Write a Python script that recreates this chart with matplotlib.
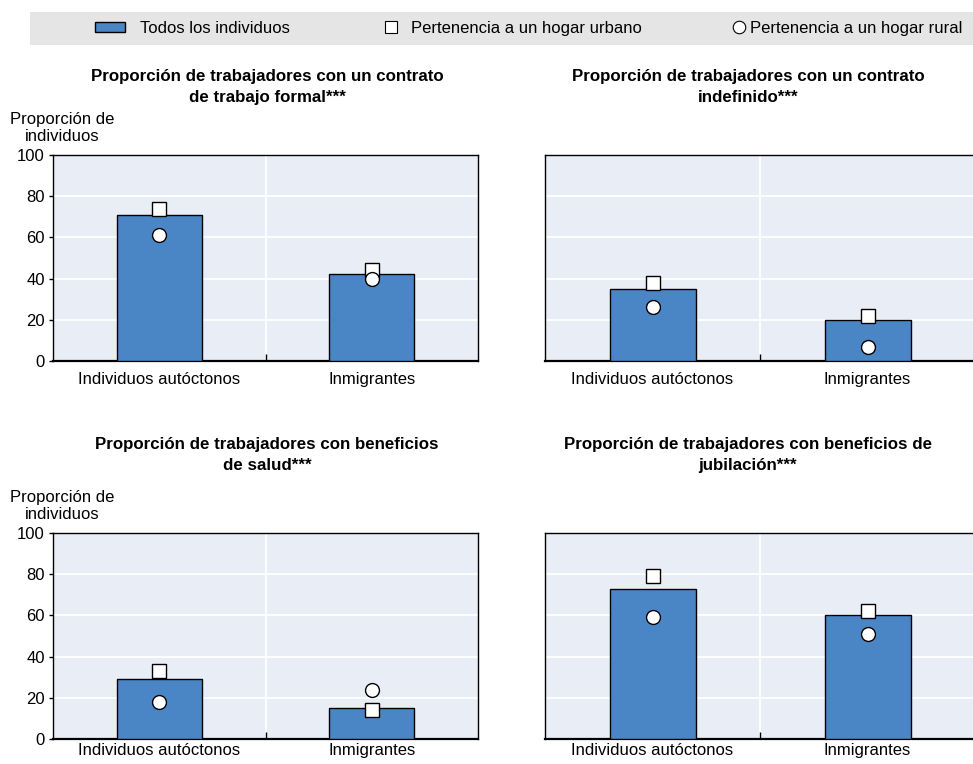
import matplotlib
matplotlib.use("Agg")
import matplotlib.pyplot as plt
from matplotlib.patches import Patch, Rectangle
from matplotlib.lines import Line2D
import numpy as np

plt.rcParams['font.family'] = ['Liberation Sans', 'DejaVu Sans']

categories = ["Individuos autóctonos", "Inmigrantes"]
titles = [
    "Proporción de trabajadores con un contrato\nde trabajo formal***",
    "Proporción de trabajadores con un contrato\nindefinido***",
    "Proporción de trabajadores con beneficios\nde salud***",
    "Proporción de trabajadores con beneficios de\njubilación***",
]
todos = [[71, 42], [35, 20], [29, 15], [73, 60]]
urbano = [[74, 44], [38, 22], [33, 14], [79, 62]]
rural = [[61, 40], [26, 7], [18, 24], [59, 51]]

bar_color = "#4a86c6"
bg_color = "#e9edf6"

W, H = 973, 764
fig = plt.figure(figsize=(W / 100, H / 100), dpi=100)

def fx(px):
    return px / W

def fy(py):
    return 1 - py / H

# axes boxes in pixels: left, top, right, bottom
boxes = [(53, 155, 478, 361), (545, 155, 975, 361),
         (53, 533, 478, 739), (545, 533, 975, 739)]
title_centers = [(267, 87), (748, 87), (267, 455), (748, 455)]
label_pads = [8, 8, 3, 3]

for i, (l, t, r, b) in enumerate(boxes):
    ax = fig.add_axes([fx(l), fy(b), fx(r - l), (b - t) / H])
    ax.set_facecolor(bg_color)
    x = np.arange(len(categories))
    ax.bar(x, todos[i], width=0.4, color=bar_color, edgecolor="black", linewidth=1, zorder=3)
    ax.plot(x, urbano[i], linestyle="none", marker="s", markersize=10,
            markerfacecolor="white", markeredgecolor="black", markeredgewidth=1, zorder=4)
    ax.plot(x, rural[i], linestyle="none", marker="o", markersize=10,
            markerfacecolor="white", markeredgecolor="black", markeredgewidth=1, zorder=5)
    ax.set_xlim(-0.5, 1.5)
    ax.set_ylim(0, 100)
    ax.set_yticks([0, 20, 40, 60, 80, 100])
    for yv in [20, 40, 60, 80]:
        ax.axhline(yv, color="white", linewidth=1.3, zorder=1)
    ax.axvline(0.5, color="white", linewidth=1.3, zorder=1)
    ax.set_xticks(x)
    ax.set_xticklabels(categories, fontsize=12)
    ax.set_xticks([0.5], minor=True)
    ax.tick_params(axis="x", which="major", length=0, pad=label_pads[i])
    ax.tick_params(axis="x", which="minor", direction="in", length=5, width=1)
    ax.tick_params(axis="y", direction="out", length=3, width=1, labelsize=12, pad=3)
    for s in ax.spines.values():
        s.set_color("black")
        s.set_linewidth(1)
    ax.spines["bottom"].set_linewidth(1.6)
    if i % 2 == 1:
        ax.tick_params(axis="y", labelleft=False, length=0)
    cx, cy = title_centers[i]
    fig.text(fx(cx), fy(cy), titles[i], ha="center", va="center",
             fontsize=12.2, fontweight="bold", linespacing=1.55)
    if i % 2 == 0:
        fig.text(fx(62), fy(t - 27), "Proporción de\nindividuos", ha="center",
                 va="center", fontsize=12, linespacing=1.15)

# legend band
fig.patches.append(Rectangle((fx(30), fy(45)), fx(943), 33 / H, transform=fig.transFigure,
                             facecolor="#e5e5e5", edgecolor="none", zorder=0))
legend_items = [
    (Patch(facecolor=bar_color, edgecolor="black", linewidth=1),
     "Todos los individuos", 95, 1.8, 0.9),
    (Line2D([], [], linestyle="none", marker="s", markersize=9,
            markerfacecolor="white", markeredgecolor="black", markeredgewidth=0.8),
     "Pertenencia a un hogar urbano", 381, 1.2, 0.6),
    (Line2D([], [], linestyle="none", marker="o", markersize=9,
            markerfacecolor="white", markeredgecolor="black", markeredgewidth=0.8),
     "Pertenencia a un hogar rural", 731, 1.0, 0.15),
]
for handle, label, xpos, hl, pad in legend_items:
    fig.legend([handle], [label], loc="center left", bbox_to_anchor=(fx(xpos), fy(28.5)),
               frameon=False, fontsize=12, handlelength=hl, handleheight=0.6,
               handletextpad=pad, borderpad=0, borderaxespad=0)

fig.savefig("out.png", dpi=100)
